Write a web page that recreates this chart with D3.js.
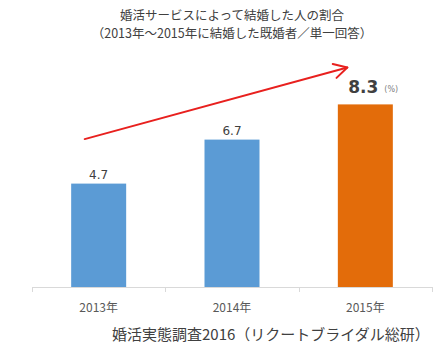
<!DOCTYPE html>
<html><head><meta charset="utf-8">
<script src="https://cdn.jsdelivr.net/npm/d3@7/dist/d3.min.js"></script>
<style>
html,body{margin:0;padding:0;background:#fff;}
svg{display:block;}
</style></head>
<body>
<script>
const titleLines = ["婚活サービスによって結婚した人の割合", "（2013年～2015年に結婚した既婚者／単一回答）"];
const categories = ["2013年", "2014年", "2015年"];
const values = [4.7, 6.7, 8.3];
const barColors = ["#5b9bd5", "#5b9bd5", "#e36c0a"];
const unitLabel = "(%)";
const sourceText = "婚活実態調査2016（リクートブライダル総研）";

const W = 439, H = 355;
const jp = "'Noto Sans CJK JP', 'Noto Sans', sans-serif";
const num = "'DejaVu Sans', Verdana, sans-serif";

const svg = d3.select("body").append("svg").attr("width", W).attr("height", H);

const x = d3.scaleBand().domain(categories).range([32, 432]).paddingInner(0.5875).paddingOuter(0.29375);
const y = d3.scaleLinear().domain([0, 10]).range([287, 67]);

// title
svg.append("g").selectAll("text").data(titleLines).join("text")
  .attr("x", 232).attr("y", (d, i) => 20 + i * 18)
  .attr("text-anchor", "middle")
  .attr("font-family", jp).attr("font-size", 12.5).attr("fill", "#404040")
  .text(d => d);

// bars
svg.append("g").selectAll("rect").data(values).join("rect")
  .attr("x", (d, i) => x(categories[i]))
  .attr("y", d => y(d))
  .attr("width", x.bandwidth())
  .attr("height", d => y(0) - y(d))
  .attr("fill", (d, i) => barColors[i]);

// value labels
svg.append("g").selectAll("text").data(values).join("text")
  .attr("x", (d, i) => x(categories[i]) + x.bandwidth() / 2 - (i === 2 ? 2 : 0))
  .attr("y", (d, i) => y(d) - (i === 2 ? 11 : 5))
  .attr("text-anchor", "middle")
  .attr("font-family", num)
  .attr("font-size", (d, i) => i === 2 ? 17 : 12)
  .attr("font-weight", (d, i) => i === 2 ? "bold" : "normal")
  .attr("fill", "#404040")
  .text(d => d.toFixed(1));

// unit label
svg.append("text")
  .attr("x", x(categories[2]) + x.bandwidth() / 2 + 19)
  .attr("y", y(values[2]) - 12)
  .attr("font-family", num).attr("font-size", 8).attr("fill", "#7f7f7f")
  .text(unitLabel);

// x axis
const ax = svg.append("g").attr("transform", `translate(0,${y(0)})`);
ax.append("line").attr("x1", 32).attr("x2", 432).attr("y1", 0.5).attr("y2", 0.5)
  .attr("stroke", "#d9d9d9").attr("stroke-width", 1);
const step = x.step();
const tickXs = d3.range(categories.length + 1).map(i => 32 + i * step);
ax.selectAll("line.tk").data(tickXs).join("line").attr("class", "tk")
  .attr("x1", d => Math.round(d) + 0.5).attr("x2", d => Math.round(d) + 0.5)
  .attr("y1", 0).attr("y2", 5).attr("stroke", "#d9d9d9");
ax.selectAll("text").data(categories).join("text")
  .attr("x", d => x(d) + x.bandwidth() / 2)
  .attr("y", 25)
  .attr("text-anchor", "middle")
  .attr("font-family", jp).attr("font-size", 12).attr("fill", "#595959")
  .text(d => d);

// trend arrow
const ax0 = x(categories[0]) + x.bandwidth() / 2 - 14, ay0 = y(values[1]) - 0.5;
const ax1 = x(categories[2]) + x.bandwidth() / 2 - 18, ay1 = y(10) + 0.5;
const ang = Math.atan2(ay1 - ay0, ax1 - ax0);
const hl = 15, ha = 0.5;
const arrow = svg.append("g").attr("stroke", "#e8201e").attr("stroke-width", 2).attr("fill", "none")
  .attr("stroke-linecap", "round").attr("stroke-linejoin", "round");
arrow.append("line").attr("x1", ax0).attr("y1", ay0).attr("x2", ax1).attr("y2", ay1);
arrow.append("path").attr("d", d3.line()([
  [ax1 - hl * Math.cos(ang - ha), ay1 - hl * Math.sin(ang - ha)],
  [ax1, ay1],
  [ax1 - hl * Math.cos(ang + ha), ay1 - hl * Math.sin(ang + ha)]
]));

// source
svg.append("text")
  .attr("x", 112).attr("y", 340)
  .attr("font-family", jp).attr("font-size", 15).attr("fill", "#404040")
  .text(sourceText);
</script>
</body></html>
